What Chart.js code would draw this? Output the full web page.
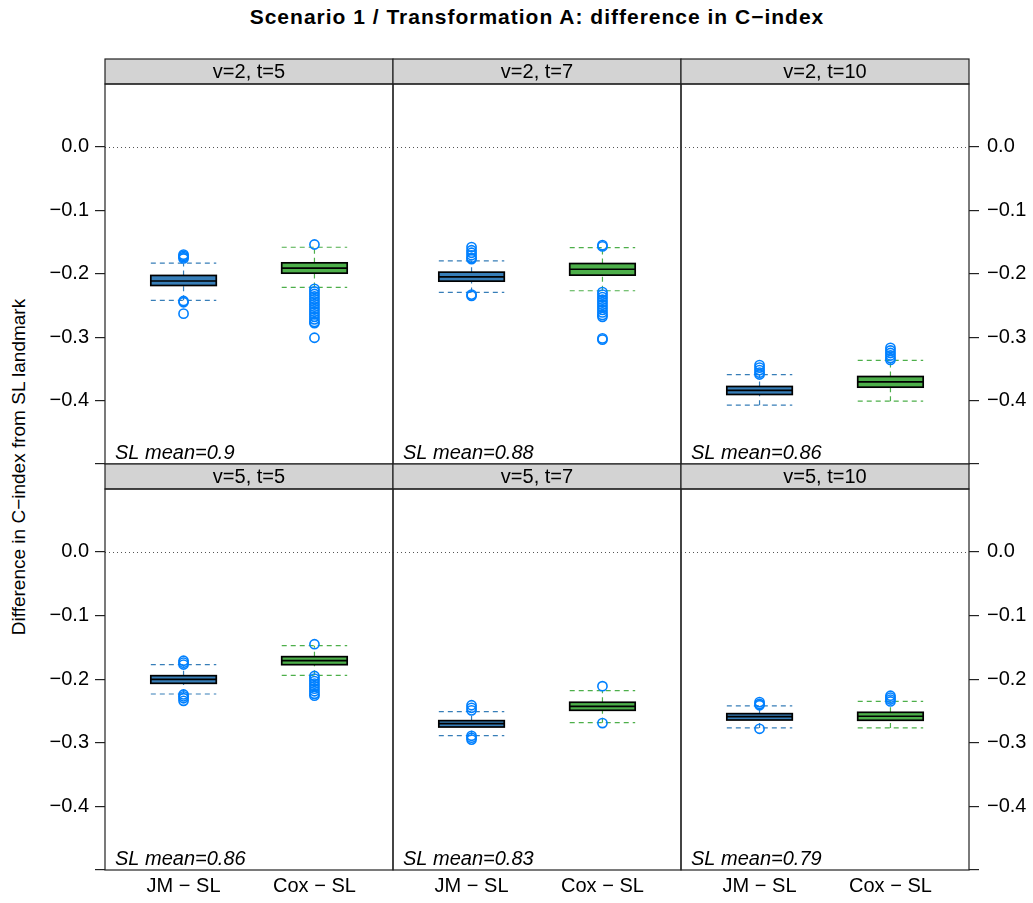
<!DOCTYPE html>
<html>
<head>
<meta charset="utf-8">
<script src="https://cdn.jsdelivr.net/npm/chart.js@4.4.0/dist/chart.umd.min.js"></script>
<style>
  body { margin: 0; background: #fff; font-family: "Liberation Sans", Arial, sans-serif; }
  #wrap { position: relative; width: 1033px; height: 903px; overflow: hidden; }
  #wrap canvas { position: absolute; left: 0; top: 0; }
  #title { position: absolute; left: 0; top: 5px; width: 1074px; text-align: center;
           font-weight: bold; font-size: 21px; letter-spacing: 1px; color: #000; }
  #ylab { position: absolute; left: 19px; top: 467px; white-space: nowrap; font-size: 19px;
          transform: translate(-50%, -50%) rotate(-90deg); color: #000; }
</style>
</head>
<body>
<div id="wrap">
  <div id="title">Scenario 1 / Transformation A: difference in C&#8722;index</div>
  <div id="ylab">Difference in C&#8722;index from SL landmark</div>
</div>
<script>
// panel labels, in reading order (top row first)
const panelTitles = ['v=2, t=5', 'v=2, t=7', 'v=2, t=10', 'v=5, t=5', 'v=5, t=7', 'v=5, t=10'];
const slMeans = ['0.9', '0.88', '0.86', '0.86', '0.83', '0.79'];
const methods = ['JM \u2212 SL', 'Cox \u2212 SL'];
const yTicks = [0, -0.1, -0.2, -0.3, -0.4, -0.5];

// [lower whisker, Q1, median, Q3, upper whisker]
const jmStats = [
  [-0.2420, -0.2186, -0.2115, -0.2028, -0.1835],
  [-0.2296, -0.2118, -0.2049, -0.1976, -0.1797],
  [-0.4072, -0.3904, -0.3841, -0.3778, -0.3590],
  [-0.2233, -0.2065, -0.2002, -0.1945, -0.1772],
  [-0.2888, -0.2752, -0.2700, -0.2652, -0.2511],
  [-0.2767, -0.2642, -0.2590, -0.2542, -0.2421]
];
const coxStats = [
  [-0.2217, -0.1992, -0.1913, -0.1829, -0.1583],
  [-0.2269, -0.2023, -0.1930, -0.1840, -0.1588],
  [-0.4009, -0.3789, -0.3706, -0.3621, -0.3365],
  [-0.1939, -0.1772, -0.1709, -0.1646, -0.1473],
  [-0.2684, -0.2489, -0.2426, -0.2363, -0.2181],
  [-0.2767, -0.2646, -0.2583, -0.2521, -0.2348]
];

// outlying points
const jmOutliers = [
  [-0.170, -0.172, -0.174, -0.176, -0.243, -0.245, -0.263],
  [-0.158, -0.163, -0.167, -0.171, -0.175, -0.177, -0.233, -0.235],
  [-0.344, -0.348, -0.352, -0.356, -0.359],
  [-0.171, -0.174, -0.177, -0.224, -0.227, -0.230, -0.234],
  [-0.241, -0.245, -0.249, -0.289, -0.292, -0.295],
  [-0.236, -0.239, -0.241, -0.278]
];
const coxOutliers = [
  [-0.154, -0.224, -0.228, -0.232, -0.236, -0.240, -0.244, -0.248, -0.252, -0.256, -0.260,
   -0.264, -0.268, -0.272, -0.276, -0.278, -0.301],
  [-0.155, -0.157, -0.229, -0.233, -0.237, -0.241, -0.245, -0.249, -0.253, -0.257, -0.261,
   -0.265, -0.268, -0.302, -0.304],
  [-0.317, -0.321, -0.325, -0.329, -0.333, -0.336],
  [-0.145, -0.195, -0.199, -0.203, -0.207, -0.211, -0.215, -0.219, -0.223, -0.226],
  [-0.211, -0.269],
  [-0.226, -0.229, -0.232, -0.235]
];

const boxColors = ['#377EB8', '#4DAF4A'];
const pointColor = '#0080FF';

// page layout of the lattice
const W = 1033, H = 903;
const colLeft = [105, 393, 681];
const panelW = 288;
const rowTop = [84, 489];
const panelH = [380, 381];
const stripH = 25;
const boxHalf = 0.25;
const FONT = '"Liberation Sans", Arial, sans-serif';

const latticePlugin = {
  id: 'lattice',
  beforeDatasetsDraw(chart, args, opts) {
    const { ctx, chartArea: a } = chart;
    const x = chart.scales.x, y = chart.scales.y;
    const p = opts.panel;
    ctx.save();
    // reference line at zero
    const y0 = Math.round(y.getPixelForValue(0)) + 0.5;
    ctx.strokeStyle = '#555';
    ctx.lineWidth = 1;
    ctx.setLineDash([1, 3]);
    ctx.beginPath();
    ctx.moveTo(a.left, y0);
    ctx.lineTo(a.right, y0);
    ctx.stroke();

    [jmStats[p], coxStats[p]].forEach((s, k) => {
      const cx = x.getPixelForValue(k + 1);
      const hw = x.getPixelForValue(k + 1 + boxHalf) - cx;
      const py = s.map(v => y.getPixelForValue(v));
      // whiskers
      ctx.setLineDash([5, 4]);
      ctx.strokeStyle = boxColors[k];
      ctx.lineWidth = 1.2;
      ctx.beginPath();
      ctx.moveTo(cx - hw, py[0]); ctx.lineTo(cx + hw, py[0]);
      ctx.moveTo(cx - hw, py[4]); ctx.lineTo(cx + hw, py[4]);
      ctx.moveTo(cx, py[0]); ctx.lineTo(cx, py[1]);
      ctx.moveTo(cx, py[3]); ctx.lineTo(cx, py[4]);
      ctx.stroke();
      // box
      ctx.setLineDash([]);
      ctx.fillStyle = boxColors[k];
      ctx.fillRect(cx - hw, py[3], 2 * hw, py[1] - py[3]);
      ctx.strokeStyle = '#000';
      ctx.lineWidth = 1.7;
      ctx.strokeRect(cx - hw, py[3], 2 * hw, py[1] - py[3]);
      ctx.beginPath();
      ctx.moveTo(cx - hw, py[2]); ctx.lineTo(cx + hw, py[2]);
      ctx.stroke();
    });
    ctx.restore();
  },
  afterDraw(chart, args, opts) {
    const { ctx, chartArea: a } = chart;
    const p = opts.panel;
    ctx.save();
    // strip
    ctx.fillStyle = '#D3D3D3';
    ctx.fillRect(a.left, a.top - stripH, a.right - a.left, stripH);
    ctx.strokeStyle = '#222';
    ctx.lineWidth = 1.2;
    ctx.strokeRect(a.left, a.top - stripH, a.right - a.left, stripH);
    ctx.strokeRect(a.left, a.top, a.right - a.left, a.bottom - a.top);
    ctx.fillStyle = '#000';
    ctx.font = '20px ' + FONT;
    ctx.textAlign = 'center';
    ctx.textBaseline = 'middle';
    ctx.fillText(panelTitles[p], (a.left + a.right) / 2, a.top - stripH / 2 + 1);
    // SL mean annotation
    ctx.font = 'italic 20px ' + FONT;
    ctx.textAlign = 'left';
    ctx.textBaseline = 'alphabetic';
    ctx.fillText('SL mean=' + slMeans[p], a.left + 10, a.bottom - 5);
    ctx.restore();
  }
};

function tickText(v) {
  if (v === -0.5) return '';
  if (v === 0) return '0.0';
  return '\u2212' + Math.abs(v).toFixed(1);
}

function makePanel(p) {
  const col = p % 3, row = Math.floor(p / 3);
  const left = colLeft[col], top = rowTop[row];
  const right = left + panelW, bottom = top + panelH[row];
  const axisW = 70, axisH = 34;
  const showY = col !== 1;
  const showX = row === 1;

  const canvas = document.createElement('canvas');
  canvas.width = W; canvas.height = H;
  canvas.style.width = W + 'px'; canvas.style.height = H + 'px';
  document.getElementById('wrap').appendChild(canvas);

  new Chart(canvas, {
    type: 'scatter',
    data: {
      datasets: [jmOutliers[p], coxOutliers[p]].map((vals, k) => ({
        label: methods[k],
        data: vals.map(v => ({ x: k + 1, y: v })),
        pointStyle: 'circle',
        pointRadius: 4.6,
        pointBorderWidth: 1.6,
        pointBorderColor: pointColor,
        pointBackgroundColor: 'rgba(0,0,0,0)'
      }))
    },
    options: {
      responsive: false,
      animation: false,
      events: [],
      layout: {
        padding: {
          left: showY && col === 0 ? left - axisW : left,
          right: showY && col === 2 ? W - right - axisW : W - right,
          top: top,
          bottom: showX ? H - bottom - axisH : H - bottom
        }
      },
      plugins: {
        legend: { display: false },
        tooltip: { enabled: false },
        lattice: { panel: p }
      },
      scales: {
        x: {
          type: 'linear',
          min: 0.4, max: 2.6,
          display: showX,
          position: 'bottom',
          afterBuildTicks: s => { s.ticks = [{ value: 1 }, { value: 2 }]; },
          afterFit: s => { if (showX) s.height = axisH; },
          grid: { display: false, drawTicks: false },
          border: { display: false },
          ticks: {
            padding: 4,
            color: '#000',
            font: { family: FONT, size: 20 },
            callback: v => methods[v - 1],
            autoSkip: false, maxRotation: 0
          }
        },
        y: {
          type: 'linear',
          min: -0.5, max: 0.099,
          display: showY,
          position: col === 2 ? 'right' : 'left',
          afterBuildTicks: s => { s.ticks = yTicks.map(v => ({ value: v })); },
          afterFit: s => { if (showY) s.width = axisW; },
          grid: { drawOnChartArea: false, drawTicks: true, tickLength: 10, color: '#222', lineWidth: 1.2 },
          border: { display: false },
          ticks: {
            padding: col === 0 ? 6 : 8,
            color: '#000',
            font: { family: FONT, size: 20 },
            callback: v => tickText(v),
            autoSkip: false
          }
        }
      }
    },
    plugins: [latticePlugin]
  });
}

for (let p = 0; p < 6; p++) makePanel(p);
</script>
</body>
</html>
